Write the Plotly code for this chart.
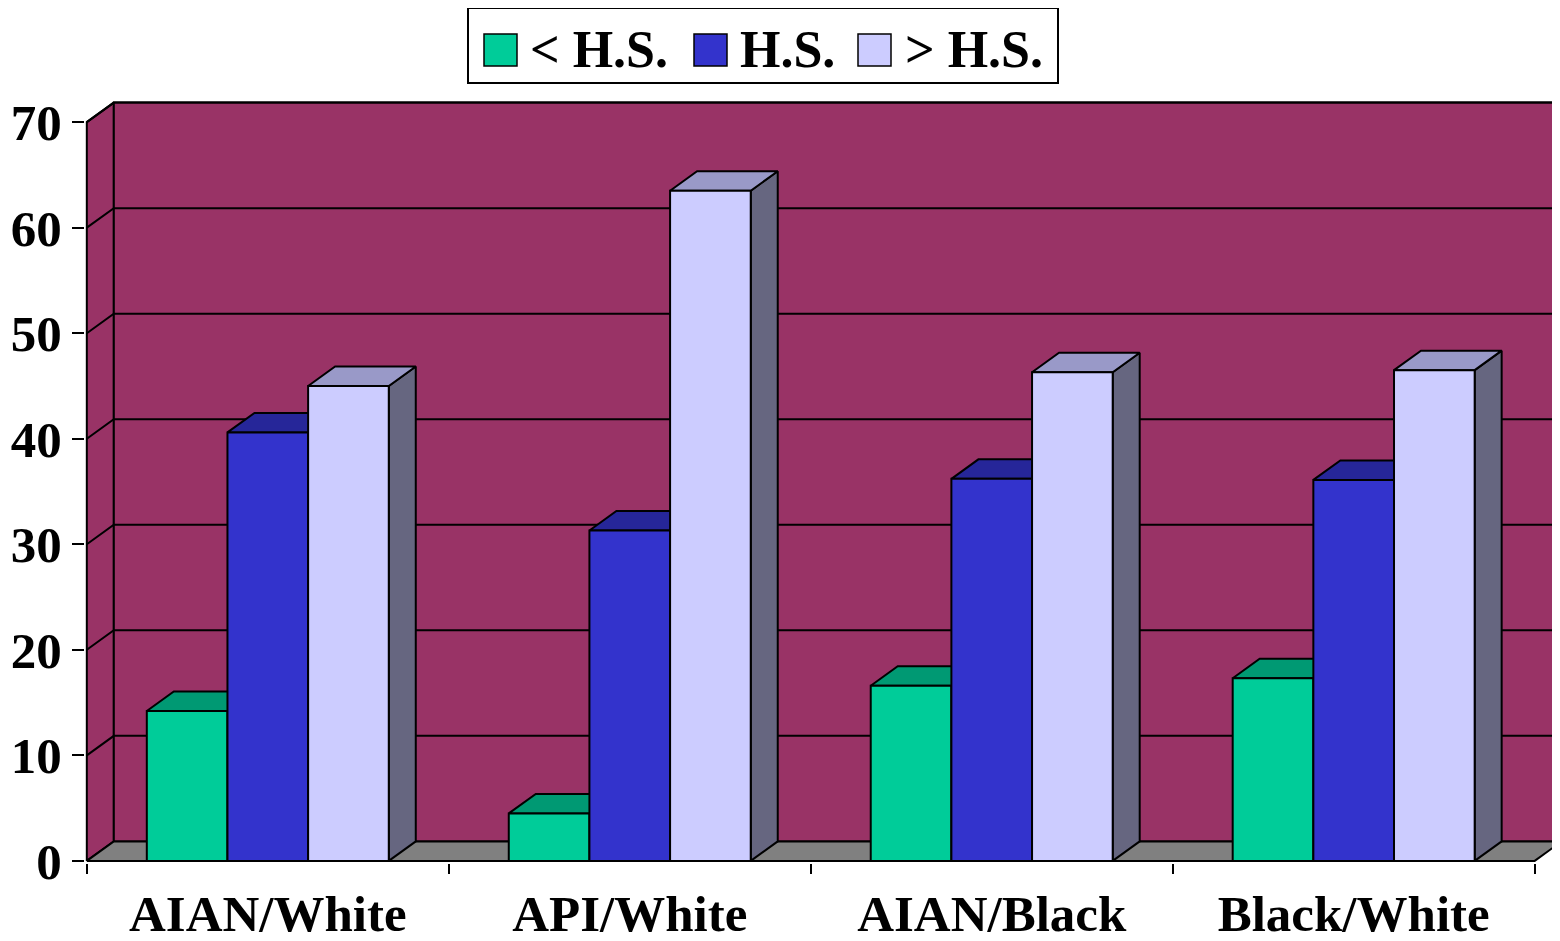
import plotly.graph_objects as go

categories = ["AIAN/White", "API/White", "AIAN/Black", "Black/White"]
series_names = ["< H.S.", "H.S.", "> H.S."]
less_hs = [14.2, 4.5, 16.6, 17.3]
hs = [40.6, 31.3, 36.2, 36.1]
more_hs = [45.0, 63.5, 46.3, 46.5]
y_ticks = [0, 10, 20, 30, 40, 50, 60, 70]

front_colors = ["#00CC99", "#3333CC", "#CCCCFF"]
top_colors = ["#009973", "#262699", "#9999C8"]
side_colors = ["#00664D", "#1A1A66", "#666680"]
wall_color = "#993366"
floor_color = "#808080"

FONT = dict(family="Liberation Serif", size=51, color="black", weight="bold")
LEG_FONT = dict(family="Liberation Serif", size=52, color="black", weight="bold")

# fake 3d depth (in axis units)
DX = 27 / 362
DY = 19.5 / 10.556
GROUP_W = 0.6685
BAR_W = GROUP_W / 3
X_LO, X_HI = -0.5, len(categories) - 0.5
Y_TOP = max(y_ticks)

# figure geometry (px); page body adds an 8px offset, so compensate
W, H = 1560, 941
OFF = 8
ML, MR, MT, MB = 85 - OFF, OFF, 101 - OFF, 78 + OFF


def faces(values, k):
    front_x, front_y, top_x, top_y, side_x, side_y = [], [], [], [], [], []
    for i, v in enumerate(values):
        x0 = i - GROUP_W / 2 + k * BAR_W
        x1 = x0 + BAR_W
        front_x += [x0, x1, x1, x0, x0, None]
        front_y += [0, 0, v, v, 0, None]
        top_x += [x0, x1, x1 + DX, x0 + DX, x0, None]
        top_y += [v, v, v + DY, v + DY, v, None]
        side_x += [x1, x1 + DX, x1 + DX, x1, x1, None]
        side_y += [0, DY, v + DY, v, 0, None]
    return (front_x, front_y), (top_x, top_y), (side_x, side_y)


def poly(xs, ys, fill, width=2):
    return go.Scatter(x=xs, y=ys, mode="lines", fill="toself", fillcolor=fill,
                      line=dict(color="black", width=width), hoverinfo="skip",
                      showlegend=False)


fig = go.Figure()

# left wall, back wall, floor
fig.add_trace(poly([X_LO, X_LO + DX, X_LO + DX, X_LO, X_LO],
                   [0, DY, Y_TOP + DY, Y_TOP, 0], wall_color))
fig.add_trace(poly([X_LO + DX, X_HI + DX, X_HI + DX, X_LO + DX, X_LO + DX],
                   [DY, DY, Y_TOP + DY, Y_TOP + DY, DY], wall_color))
fig.add_trace(poly([X_LO, X_HI, X_HI + DX, X_LO + DX, X_LO],
                   [0, 0, DY, DY, 0], floor_color))

# gridlines on side + back walls
gx, gy = [], []
for v in y_ticks[1:]:
    gx += [X_LO, X_LO + DX, X_HI + DX, None]
    gy += [v, v + DY, v + DY, None]
fig.add_trace(go.Scatter(x=gx, y=gy, mode="lines", line=dict(color="black", width=2),
                         hoverinfo="skip", showlegend=False))

# bars
for k, vals in enumerate([less_hs, hs, more_hs]):
    front, top, side = faces(vals, k)
    fig.add_trace(poly(*side, side_colors[k]))
    fig.add_trace(poly(*top, top_colors[k]))
    fig.add_trace(poly(*front, front_colors[k]))

# manual legend (screen pixel layout -> paper coords)
pw, ph = W - ML - MR, H - MT - MB


def px(x):
    return (x - OFF - ML) / pw


def py(y):
    return (H - MB - (y - OFF)) / ph


shapes = [dict(type="rect", xref="paper", yref="paper", x0=px(468), x1=px(1058),
               y0=py(83), y1=py(8), line=dict(color="black", width=2),
               fillcolor="white")]
annotations = []
sq_left = [484, 694, 858]
txt_left = [528, 738, 903]
for k, name in enumerate(series_names):
    shapes.append(dict(type="rect", xref="paper", yref="paper",
                       x0=px(sq_left[k]), x1=px(sq_left[k] + 33),
                       y0=py(66), y1=py(34), fillcolor=front_colors[k],
                       line=dict(color="black", width=1.5)))
    annotations.append(dict(xref="paper", yref="paper", x=px(txt_left[k]), y=py(50),
                            text=name, showarrow=False, xanchor="left",
                            yanchor="middle", font=LEG_FONT))

fig.update_layout(
    width=W, height=H,
    margin=dict(l=ML, r=MR, t=MT, b=MB),
    paper_bgcolor="white", plot_bgcolor="white",
    showlegend=False,
    shapes=shapes, annotations=annotations,
    xaxis=dict(range=[-0.505, 3.57], showgrid=False, zeroline=False,
               automargin=False,
               tickvals=list(range(len(categories))), ticktext=categories,
               ticks="", tickfont=FONT, ticklabelstandoff=16,
               minor=dict(tickvals=[X_LO + i for i in range(len(categories) + 1)],
                          ticks="outside", ticklen=10, tickwidth=2,
                          tickcolor="black", showgrid=False)),
    yaxis=dict(range=[-0.2, 72], showgrid=False, zeroline=False,
               automargin=False,
               tickvals=y_ticks, ticks="outside", ticklen=12, tickwidth=2,
               tickcolor="black", tickfont=FONT),
)

fig.write_html("out.html")
